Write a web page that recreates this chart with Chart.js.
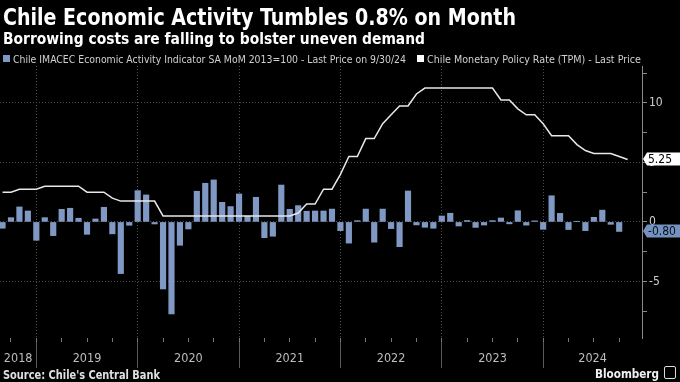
<!DOCTYPE html>
<html><head><meta charset="utf-8">
<script src="https://cdn.jsdelivr.net/npm/chart.js@4.4.0/dist/chart.umd.min.js"></script>
<style>
html,body{margin:0;padding:0;background:#000;}
#wrap{position:relative;width:680px;height:382px;overflow:hidden;background:#000;}
#c{position:absolute;left:0;top:0;}
.t{position:absolute;white-space:nowrap;transform-origin:0 0;line-height:1;color:#fff;}
#title{left:3px;top:4px;font:bold 23px "DejaVu Sans Condensed","DejaVu Sans",sans-serif;}
#sub{left:3px;top:29px;font:bold 16px "DejaVu Sans Condensed","DejaVu Sans",sans-serif;}
.leg{top:53px;font:11px "DejaVu Sans Condensed","DejaVu Sans",sans-serif;color:#d0d0d0;}
.sq{position:absolute;top:55px;width:7px;height:7px;}
#src{left:3px;top:368px;font:bold 11.5px "DejaVu Sans Condensed","DejaVu Sans",sans-serif;color:#e0e0e0;}
#bb{left:595px;top:366px;font:bold 13px "DejaVu Sans Condensed","DejaVu Sans",sans-serif;color:#f0f0f0;}
#icon{position:absolute;left:664px;top:366px;width:10px;height:11px;border:1px solid #ddd;border-radius:2px;}
</style></head>
<body>
<div id="wrap">
<canvas id="c" width="680" height="382"></canvas>
<div class="t" id="title" data-w="513">Chile Economic Activity Tumbles 0.8% on Month</div>
<div class="t" id="sub" data-w="422">Borrowing costs are falling to bolster uneven demand</div>
<div class="sq" style="left:3px;background:#7f99c4"></div>
<div class="t leg" id="leg1" style="left:13px" data-w="393">Chile IMACEC Economic Activity Indicator SA MoM 2013=100 - Last Price on 9/30/24</div>
<div class="sq" style="left:417px;background:#ffffff"></div>
<div class="t leg" id="leg2" style="left:427px" data-w="214">Chile Monetary Policy Rate (TPM) - Last Price</div>
<div class="t" id="src" data-w="157">Source: Chile's Central Bank</div>
<div class="t" id="bb" data-w="64">Bloomberg</div>
<div id="icon"></div>
</div>
<script>
// Month-end dates (categories)
const months = [
 '2018-08','2018-09','2018-10','2018-11','2018-12',
 '2019-01','2019-02','2019-03','2019-04','2019-05','2019-06','2019-07','2019-08','2019-09','2019-10','2019-11','2019-12',
 '2020-01','2020-02','2020-03','2020-04','2020-05','2020-06','2020-07','2020-08','2020-09','2020-10','2020-11','2020-12',
 '2021-01','2021-02','2021-03','2021-04','2021-05','2021-06','2021-07','2021-08','2021-09','2021-10','2021-11','2021-12',
 '2022-01','2022-02','2022-03','2022-04','2022-05','2022-06','2022-07','2022-08','2022-09','2022-10','2022-11','2022-12',
 '2023-01','2023-02','2023-03','2023-04','2023-05','2023-06','2023-07','2023-08','2023-09','2023-10','2023-11','2023-12',
 '2024-01','2024-02','2024-03','2024-04','2024-05','2024-06','2024-07','2024-08','2024-09','2024-10'
];
// IMACEC SA MoM % (Aug 2018 - Sep 2024)
const imacec = [
 -0.53, 0.36, 1.26, 0.92, -1.54,
 0.36, -1.15, 1.06, 1.15, 0.31, -1.04, 0.25, 1.23, -1.00, -4.34, -0.28, 2.63,
 2.27, -0.17, -5.63, -7.73, -1.96, -0.59, 2.58, 3.25, 3.53, 1.65, 1.29, 2.35,
 0.48, 2.07, -1.32, -1.20, 3.10, 1.06, 1.37, 0.90, 0.92, 0.92, 1.08, -0.73,
 -1.78, 0.11, 1.08, -1.70, 1.08, -0.56, -2.08, 2.60, -0.25, -0.45, -0.53, 0.50,
 0.73, -0.34, 0.12, -0.46, -0.26, 0.11, 0.33, -0.16, 0.94, -0.27, 0.09, -0.62,
 2.20, 0.72, -0.64, 0.02, -0.73, 0.39, 0.99, -0.20, -0.80
];
// Monetary policy rate % (Aug 2018 - Oct 2024)
const tpm = [
 2.5, 2.5, 2.75, 2.75, 2.75,
 3.0, 3.0, 3.0, 3.0, 3.0, 2.5, 2.5, 2.5, 2.0, 1.75, 1.75, 1.75,
 1.75, 1.75, 0.5, 0.5, 0.5, 0.5, 0.5, 0.5, 0.5, 0.5, 0.5, 0.5,
 0.5, 0.5, 0.5, 0.5, 0.5, 0.5, 0.75, 1.5, 1.5, 2.75, 2.75, 4.0,
 5.5, 5.5, 7.0, 7.0, 8.25, 9.0, 9.75, 9.75, 10.75, 11.25, 11.25, 11.25,
 11.25, 11.25, 11.25, 11.25, 11.25, 11.25, 10.25, 10.25, 9.5, 9.0, 9.0, 8.25,
 7.25, 7.25, 7.25, 6.5, 6.0, 5.75, 5.75, 5.75, 5.5, 5.25
];
const yearLabels = ['2018','2019','2020','2021','2022','2023','2024'];
const yTicks = [-7.5, -5, -2.5, 0, 2.5, 5, 7.5, 10, 12.5];

const X_MIN = -0.3, X_MAX = 75.7;
const boundaries = months.map((m,i)=>m.endsWith('-12')?i:null).filter(v=>v!==null);
const quarters = months.map((m,i)=>/-(03|06|09|12)$/.test(m)?i:null).filter(v=>v!==null);
const labelPos = yearLabels.map(y=>{
  const s = months.indexOf((+y-1)+'-12'), e = months.indexOf(y+'-12');
  const a = s<0?X_MIN:s, b = e<0?X_MAX:e;
  return (a+b)/2;
});
const isB = v => boundaries.some(b=>Math.abs(b-v)<1e-6);
const tv = c => (c && c.tick) ? c.tick.value : NaN;
const NONE = 'rgba(0,0,0,0)';
const FONT = '"DejaVu Sans Condensed","DejaVu Sans",sans-serif';

const tagPlugin = {
  id:'tags',
  afterDraw(chart){
    const {ctx, chartArea:a, scales:{y}} = chart;
    const draw = (val, bg, fg) => {
      const cy = Math.round(y.getPixelForValue(val));
      const x0 = a.right + 1, h = 13;
      ctx.save();
      ctx.fillStyle = bg;
      ctx.beginPath();
      ctx.moveTo(x0, cy);
      ctx.lineTo(x0+4, cy-h/2);
      ctx.lineTo(680, cy-h/2);
      ctx.lineTo(680, cy+h/2);
      ctx.lineTo(x0+4, cy+h/2);
      ctx.closePath();
      ctx.fill();
      ctx.fillStyle = fg;
      ctx.font = '12px ' + FONT;
      ctx.textBaseline = 'middle';
      ctx.fillText(val.toFixed(2), x0+5, cy+1);
      ctx.restore();
    };
    draw(tpm[tpm.length-1], '#ffffff', '#000000');
    draw(imacec[imacec.length-1], '#7392c0', '#0a0f18');
  }
};

function start(){
  document.querySelectorAll('.t[data-w]').forEach(el=>{
    const w = el.getBoundingClientRect().width;
    el.style.transform = 'scaleX(' + (parseFloat(el.dataset.w)/w) + ')';
  });
  new Chart(document.getElementById('c'), {
    type:'bar',
    data:{datasets:[
      {type:'line', label:'TPM', data: tpm.map((v,i)=>({x:i,y:v})), borderColor:'#e8e8e8', borderWidth:1.5,
       pointRadius:0, tension:0, xAxisID:'x', yAxisID:'y'},
      {type:'bar', label:'IMACEC', data: imacec.map((v,i)=>({x:i,y:v})), backgroundColor:'#7f99c4',
       barThickness:5.5, xAxisID:'x', yAxisID:'y'}
    ]},
    options:{
      responsive:false, animation:false, devicePixelRatio:1,
      layout:{padding:{top:66,left:0,right:0,bottom:0}},
      plugins:{legend:{display:false}, tooltip:{enabled:false}},
      scales:{
        x:{type:'linear', position:'bottom', min:X_MIN, max:X_MAX, offset:false,
           afterBuildTicks:s=>{ s.ticks = quarters.map(v=>({value:v})); },
           grid:{offset:false, color:c=>isB(tv(c))?'#505050':NONE, lineWidth:1, tickLength:4, tickColor:'#777'},
           border:{display:false, dash:[1,2]},
           ticks:{display:false},
           afterFit:s=>{ s.height = 4; }},
        x2:{type:'linear', position:'bottom', min:X_MIN, max:X_MAX, offset:false,
           afterBuildTicks:s=>{ s.ticks = boundaries.map(v=>({value:v})).concat(labelPos.map(v=>({value:v}))); },
           grid:{offset:false, drawOnChartArea:false, tickLength:26, tickColor:c=>isB(tv(c))?'#5a5a5a':NONE, color:NONE},
           border:{display:false},
           ticks:{autoSkip:false, maxRotation:0, color:'#bdbdbd', font:{family:FONT, size:12.5}, padding:-17,
             callback:(v)=>{ const k = labelPos.findIndex(p=>Math.abs(p-v)<1e-6); return k<0?'':yearLabels[k]; }},
           afterFit:s=>{ s.height = 40; }},
        y:{type:'linear', position:'right', min:-9.75, max:13.1,
           afterBuildTicks:s=>{ s.ticks = yTicks.map(v=>({value:v})); },
           grid:{color:c=>(tv(c)%5===0)?'#4a4a4a':NONE, tickLength:5, tickColor:'#888'},
           border:{display:true, color:'#8a8a8a', width:1, dash:[1,2]},
           ticks:{autoSkip:false, color:'#cfcfcf', font:{family:FONT, size:12}, padding:2,
             callback:v=> v%5===0 ? String(v) : ''},
           afterFit:s=>{ s.width = 38; }}
      }
    },
    plugins:[tagPlugin]
  });
}
if (document.fonts && document.fonts.ready) document.fonts.ready.then(start); else start();
</script>
</body></html>
